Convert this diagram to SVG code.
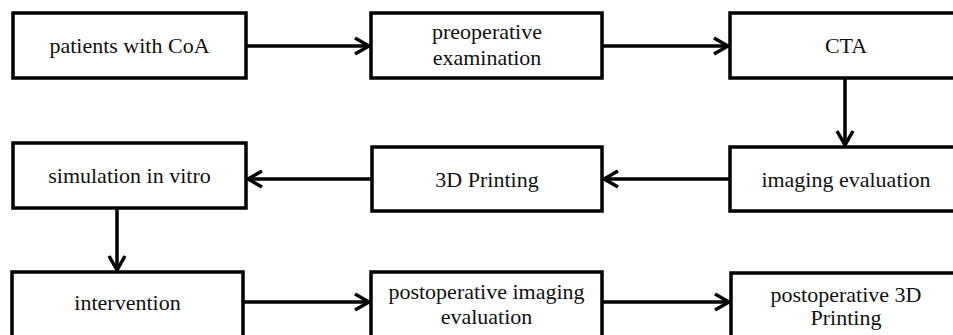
<svg xmlns="http://www.w3.org/2000/svg" width="953" height="335" viewBox="0 0 953 335">
  <style>
    .box { fill: #ffffff; stroke: #000000; stroke-width: 3.5; }
    .lbl { font-family: 'Liberation Serif', 'DejaVu Serif', 'Times New Roman', Times, serif; font-size: 22px; fill: #111111; text-anchor: middle; }
    .edge { stroke: #000000; stroke-width: 3.5; fill: none; marker-end: url(#chev); }
  </style>
  <defs>
    <marker id="chev" markerUnits="userSpaceOnUse" markerWidth="20" markerHeight="22" viewBox="-2 -2 20 22" refX="15" refY="8" orient="auto">
      <path d="M1,0 L15,8 L1,16" fill="none" stroke="#000000" stroke-width="3.5" stroke-linejoin="miter"/>
    </marker>
  </defs>
  <rect width="953" height="335" fill="#ffffff"/>

  <!-- connectors -->
  <g id="connectors">
    <line class="edge" x1="246" y1="46" x2="369" y2="46"/>
    <line class="edge" x1="602" y1="46" x2="728" y2="46"/>
    <line class="edge" x1="845" y1="78" x2="845" y2="145"/>
    <line class="edge" x1="730" y1="179" x2="604" y2="179"/>
    <line class="edge" x1="372" y1="179" x2="248" y2="179"/>
    <line class="edge" x1="117" y1="208" x2="117" y2="270"/>
    <line class="edge" x1="243" y1="302" x2="369" y2="302"/>
    <line class="edge" x1="602" y1="302" x2="729" y2="302"/>
  </g>

  <!-- row 1 -->
  <g id="patients">
    <rect class="box" x="13" y="13" width="233" height="65"/>
    <text class="lbl" x="129.5" y="53" font-family="Liberation Serif, serif">patients with CoA</text>
  </g>
  <g id="preop">
    <rect class="box" x="371" y="13" width="231" height="65"/>
    <text class="lbl" x="487" y="39">preoperative</text>
    <text class="lbl" x="487" y="65">examination</text>
  </g>
  <g id="cta">
    <rect class="box" x="730" y="13" width="232" height="65"/>
    <text class="lbl" x="846" y="53">CTA</text>
  </g>

  <!-- row 2 -->
  <g id="imaging">
    <rect class="box" x="730" y="147" width="232" height="64"/>
    <text class="lbl" x="846" y="187">imaging evaluation</text>
  </g>
  <g id="printing">
    <rect class="box" x="372" y="147" width="230" height="64"/>
    <text class="lbl" x="487" y="187">3D Printing</text>
  </g>
  <g id="simulation">
    <rect class="box" x="13" y="143" width="233" height="65"/>
    <text class="lbl" x="129.5" y="183">simulation in vitro</text>
  </g>

  <!-- row 3 -->
  <g id="intervention">
    <rect class="box" x="12" y="272" width="231" height="66"/>
    <text class="lbl" x="127.5" y="310">intervention</text>
  </g>
  <g id="postop-imaging">
    <rect class="box" x="371" y="272" width="231" height="66"/>
    <text class="lbl" x="486.5" y="299">postoperative imaging</text>
    <text class="lbl" x="486.5" y="324">evaluation</text>
  </g>
  <g id="postop-printing">
    <rect class="box" x="731" y="273" width="232" height="66"/>
    <text class="lbl" x="846" y="302">postoperative 3D</text>
    <text class="lbl" x="846" y="325">Printing</text>
  </g>
</svg>
